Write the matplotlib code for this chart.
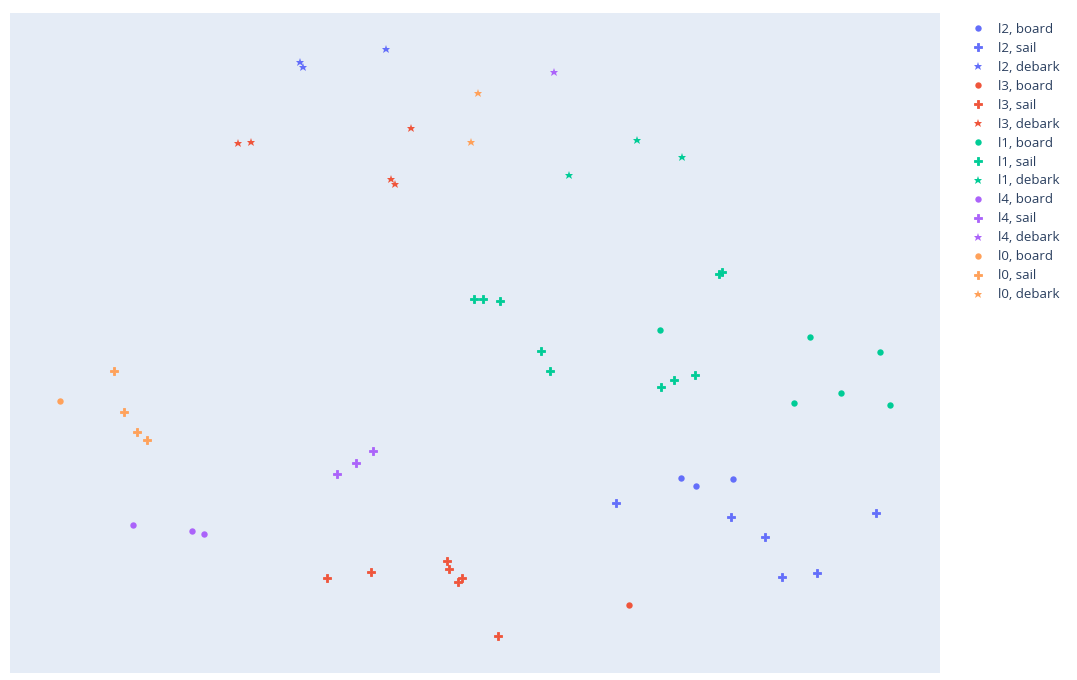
import matplotlib
matplotlib.use("Agg")
import matplotlib.pyplot as plt
from matplotlib.lines import Line2D

# Data (arbitrary units; y increases downward as in the image)
l2_board_x = [681, 696, 733]
l2_board_y = [478, 486, 479]
l2_sail_x = [616, 731, 765, 782, 817, 876]
l2_sail_y = [503, 517, 537, 577, 573, 513]
l2_debark_x = [300, 303, 386]
l2_debark_y = [62, 67, 49]

l3_board_x = [629]
l3_board_y = [605]
l3_sail_x = [327, 371, 447, 449, 458, 462, 498]
l3_sail_y = [578, 572, 561, 569, 582, 578, 636]
l3_debark_x = [238, 251, 411, 391, 395]
l3_debark_y = [143, 142, 128, 179, 184]

l1_board_x = [660, 810, 880, 794, 841, 890]
l1_board_y = [330, 337, 352, 403, 393, 405]
l1_sail_x = [474, 483, 500, 541, 550, 661, 674, 695, 719, 722]
l1_sail_y = [299, 299, 301, 351, 371, 387, 380, 375, 274, 272]
l1_debark_x = [637, 682, 569]
l1_debark_y = [140, 157, 175]

l4_board_x = [133, 192, 204]
l4_board_y = [525, 531, 534]
l4_sail_x = [337, 356, 373]
l4_sail_y = [474, 463, 451]
l4_debark_x = [554]
l4_debark_y = [72]

l0_board_x = [60]
l0_board_y = [401]
l0_sail_x = [114, 124, 137, 147]
l0_sail_y = [371, 412, 432, 440]
l0_debark_x = [478, 471]
l0_debark_y = [93, 142]

groups = ["l2", "l3", "l1", "l4", "l0"]
kinds = ["board", "sail", "debark"]
colors = {"l2": "#636EFA", "l3": "#EF553B", "l1": "#00CC96", "l4": "#AB63FA", "l0": "#FFA15A"}
markers = {"board": "o", "sail": "P", "debark": "*"}
msize = {"board": 4.6, "sail": 6.0, "debark": 6.4}
medge = {"board": 0, "sail": 0.6, "debark": 0}

data = {
    ("l2", "board"): (l2_board_x, l2_board_y), ("l2", "sail"): (l2_sail_x, l2_sail_y), ("l2", "debark"): (l2_debark_x, l2_debark_y),
    ("l3", "board"): (l3_board_x, l3_board_y), ("l3", "sail"): (l3_sail_x, l3_sail_y), ("l3", "debark"): (l3_debark_x, l3_debark_y),
    ("l1", "board"): (l1_board_x, l1_board_y), ("l1", "sail"): (l1_sail_x, l1_sail_y), ("l1", "debark"): (l1_debark_x, l1_debark_y),
    ("l4", "board"): (l4_board_x, l4_board_y), ("l4", "sail"): (l4_sail_x, l4_sail_y), ("l4", "debark"): (l4_debark_x, l4_debark_y),
    ("l0", "board"): (l0_board_x, l0_board_y), ("l0", "sail"): (l0_sail_x, l0_sail_y), ("l0", "debark"): (l0_debark_x, l0_debark_y),
}

plt.rcParams['font.family'] = ['Open Sans', 'DejaVu Sans']
W, H = 1077, 680
fig = plt.figure(figsize=(W / 100, H / 100), dpi=100)
fig.patch.set_facecolor("white")
ax = fig.add_axes([10 / W, (H - 673) / H, 930 / W, 660 / H])
ax.set_facecolor("#E5ECF6")

handles = []
for g in groups:
    for k in kinds:
        xs, ys = data[(g, k)]
        ax.plot(xs, ys, linestyle="none", marker=markers[k], markersize=msize[k],
                color=colors[g], markeredgewidth=medge[k], markeredgecolor=colors[g])
        handles.append(Line2D([], [], linestyle="none", marker=markers[k], markersize=msize[k],
                              color=colors[g], markeredgewidth=medge[k], markeredgecolor=colors[g],
                              label=f"{g}, {k}"))

ax.set_xlim(10, 940)
ax.set_ylim(673, 13)
ax.set_xticks([])
ax.set_yticks([])
for s in ax.spines.values():
    s.set_visible(False)

leg = fig.legend(handles=handles, loc="upper left", bbox_to_anchor=(971 / W, 1 - 23 / H),
                 frameon=False, fontsize=9.5, labelcolor="#2a3f5f", handlelength=1.0,
                 handletextpad=1.05, labelspacing=0.45, borderaxespad=0, borderpad=0)

fig.savefig("out.png", dpi=100, facecolor="white")
